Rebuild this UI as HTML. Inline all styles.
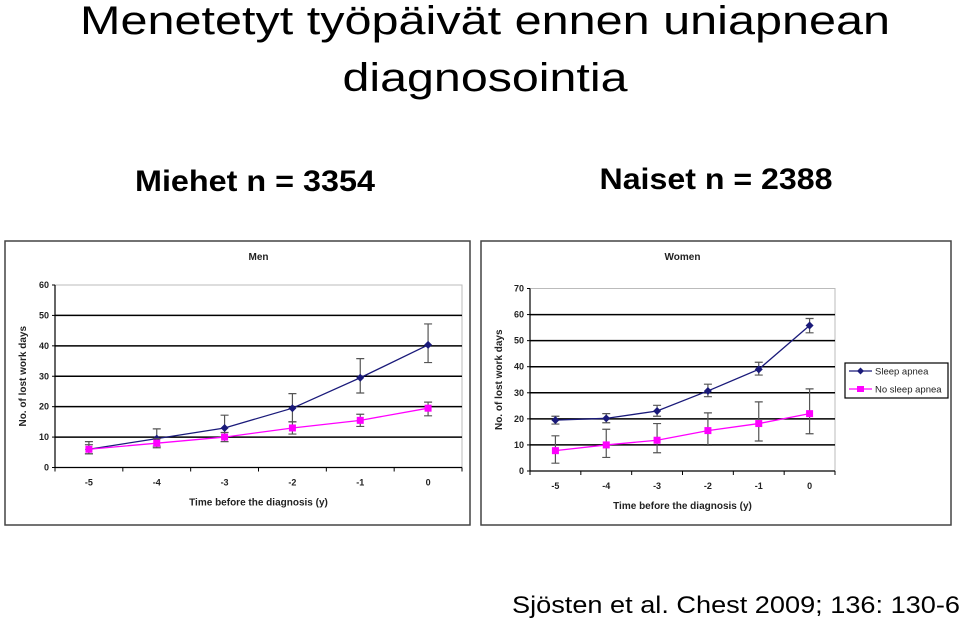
<!DOCTYPE html>
<html><head><meta charset="utf-8"><style>
html,body{margin:0;padding:0;background:#fff;width:960px;height:620px;overflow:hidden}
svg{display:block;font-family:"Liberation Sans",Arial,sans-serif}
</style></head><body>
<svg id="page" width="960" height="620" viewBox="0 0 960 620">
<text x="485" y="34" font-size="40" text-anchor="middle" textLength="810" lengthAdjust="spacingAndGlyphs">Menetetyt työpäivät ennen uniapnean</text>
<text x="485" y="91" font-size="40" text-anchor="middle" textLength="285" lengthAdjust="spacingAndGlyphs">diagnosointia</text>
<text x="255" y="191" font-size="30" font-weight="bold" text-anchor="middle" textLength="240" lengthAdjust="spacingAndGlyphs">Miehet n = 3354</text>
<text x="716" y="189" font-size="30" font-weight="bold" text-anchor="middle" textLength="233" lengthAdjust="spacingAndGlyphs">Naiset n = 2388</text>
<text x="736" y="613" font-size="24" text-anchor="middle" textLength="448" lengthAdjust="spacingAndGlyphs">Sjösten et al. Chest 2009; 136: 130-6</text>
<g id="charts"></g>
</svg>
<script>
const categories = ["-5","-4","-3","-2","-1","0"];
const menApnea = [6, 9.5, 13, 19.5, 29.5, 40.3];
const menApneaHi = [8.5, 12.7, 17.2, 24.3, 35.8, 47.2];
const menApneaLo = [4.5, 7, 10, 15, 24.5, 34.5];
const menNoApnea = [6, 8, 10, 13, 15.5, 19.5];
const menNoApneaHi = [7.5, 9.5, 11.5, 15, 17.5, 21.5];
const menNoApneaLo = [4.5, 6.5, 8.5, 11, 13.5, 17];
const menTicks = [0,10,20,30,40,50,60];
const womenApnea = [19.5, 20.2, 23, 30.7, 39, 55.8];
const womenApneaHi = [21, 22, 25.2, 33.3, 41.7, 58.5];
const womenApneaLo = [18, 18.5, 21, 28.5, 36.8, 53];
const womenNoApnea = [7.8, 10, 11.8, 15.5, 18.2, 22];
const womenNoApneaHi = [13.5, 16, 18.2, 22.3, 26.5, 31.5];
const womenNoApneaLo = [3, 5.2, 7, 9.8, 11.5, 14.3];
const womenTicks = [0,10,20,30,40,50,60,70];
const legendLabels = ["Sleep apnea","No sleep apnea"];

const NS="http://www.w3.org/2000/svg";
const root=document.getElementById('charts');
function mk(tag,attrs,parent,text){const e=document.createElementNS(NS,tag);for(const k in attrs)e.setAttribute(k,attrs[k]);if(text!==undefined)e.textContent=text;(parent||root).appendChild(e);return e;}

function chart(o){
  const g=mk('g',{});
  
  
  const frame=mk('rect',{x:o.fx,y:o.fy,width:o.fw,height:o.fh,fill:'#fff',stroke:'#444','stroke-width':1.5},g);
  
  
  const ymax=o.ticks[o.ticks.length-1];
  const y=v=>o.y0-(v/ymax)*(o.y0-o.y1);
  const bw=(o.x1-o.x0)/categories.length;
  const x=i=>o.x0+bw*(i+0.5);
  const t=mk('text',{x:(o.x0+o.x1)/2,y:o.fy+19,'font-size':10,'font-weight':'bold','text-anchor':'middle',fill:'#222'},g,o.title);
  
  
  mk('rect',{x:o.x0,y:o.y1,width:o.x1-o.x0,height:o.y0-o.y1,fill:'none',stroke:'#bbb','stroke-width':1},g);
  o.ticks.forEach(v=>{
    if(v>0&&v<ymax){const l=mk('line',{x1:o.x0,x2:o.x1,y1:y(v),y2:y(v),stroke:'#000','stroke-width':1.5},g);
      
      }
    mk('line',{x1:o.x0-3,x2:o.x0,y1:y(v),y2:y(v),stroke:'#000'},g);
    const tl=mk('text',{x:o.x0-6,y:y(v)+3,'font-size':9,'font-weight':'bold','text-anchor':'end',fill:'#222'},g,String(v));
    
    
  });
  mk('line',{x1:o.x0,x2:o.x0,y1:o.y1,y2:o.y0,stroke:'#000','stroke-width':1.2},g);
  mk('line',{x1:o.x0,x2:o.x1,y1:o.y0,y2:o.y0,stroke:'#000','stroke-width':1.2},g);
  categories.forEach((c,i)=>{
    mk('line',{x1:o.x0+bw*i,x2:o.x0+bw*i,y1:o.y0,y2:o.y0+4,stroke:'#000'},g);
    const tl=mk('text',{x:x(i),y:o.y0+18,'font-size':9,'font-weight':'bold','text-anchor':'middle',fill:'#222'},g,c);
    
    
  });
  mk('line',{x1:o.x1,x2:o.x1,y1:o.y0,y2:o.y0+4,stroke:'#000'},g);
  const xt=mk('text',{x:(o.x0+o.x1)/2,y:o.y0+38,'font-size':10,'font-weight':'bold','text-anchor':'middle',fill:'#222'},g,'Time before the diagnosis (y)');
  
  
  const yt=mk('text',{x:0,y:0,'font-size':10,'font-weight':'bold','text-anchor':'middle',fill:'#222',transform:`translate(${o.fx+21},${(o.y0+o.y1)/2}) rotate(-90)`},g,'No. of lost work days');
  
  
  const series=[[o.a,o.aHi,o.aLo,'#1a1a7a','diamond','sleep-apnea'],[o.n,o.nHi,o.nLo,'#ff00ff','square','no-sleep-apnea']];
  series.forEach(([vals,hi,lo,col,shape,nm])=>{
    vals.forEach((v,i)=>{
      const e=mk('path',{d:`M${x(i)-4},${y(hi[i])}H${x(i)+4}M${x(i)},${y(hi[i])}V${y(lo[i])}M${x(i)-4},${y(lo[i])}H${x(i)+4}`,stroke:'#555','stroke-width':1.2,fill:'none'},g);
      
      
    });
    const ln=mk('polyline',{points:vals.map((v,i)=>x(i)+','+y(v)).join(' '),fill:'none',stroke:col,'stroke-width':1.3},g);
    
    
    vals.forEach((v,i)=>{
      let p;
      if(shape==='square') p=mk('rect',{x:x(i)-3.5,y:y(v)-3.5,width:7,height:7,fill:col},g);
      else p=mk('path',{d:`M${x(i)},${y(v)-4}L${x(i)+4},${y(v)}L${x(i)},${y(v)+4}L${x(i)-4},${y(v)}Z`,fill:col},g);
      
      
    });
  });
  return g;
}
chart({name:'men-chart',title:'Men',fx:5,fy:241,fw:465,fh:284,x0:55,x1:462,y0:467.5,y1:285,ticks:menTicks,
  a:menApnea,aHi:menApneaHi,aLo:menApneaLo,n:menNoApnea,nHi:menNoApneaHi,nLo:menNoApneaLo});
const wg=chart({name:'women-chart',title:'Women',fx:481,fy:241,fw:470,fh:284,x0:530,x1:835,y0:471,y1:288.5,ticks:womenTicks,
  a:womenApnea,aHi:womenApneaHi,aLo:womenApneaLo,n:womenNoApnea,nHi:womenNoApneaHi,nLo:womenNoApneaLo});
const lg=mk('g',{},wg);


mk('rect',{x:845,y:363,width:103,height:35,fill:'#fff',stroke:'#000','stroke-width':1.2},lg);
const cols=['#1a1a7a','#ff00ff'];
legendLabels.forEach((lab,i)=>{
  const yy=371+i*18;
  const en=mk('g',{},lg);
  
  
  mk('line',{x1:849,x2:872,y1:yy,y2:yy,stroke:cols[i],'stroke-width':1.3},en);
  if(i===0) mk('path',{d:`M860.5,${yy-3.5}L864,${yy}L860.5,${yy+3.5}L857,${yy}Z`,fill:cols[i]},en);
  else mk('rect',{x:857,y:yy-3,width:7,height:6,fill:cols[i]},en);
  mk('text',{x:875,y:yy+3.5,'font-size':9.5,fill:'#222'},en,lab);
});
</script>
</body></html>
